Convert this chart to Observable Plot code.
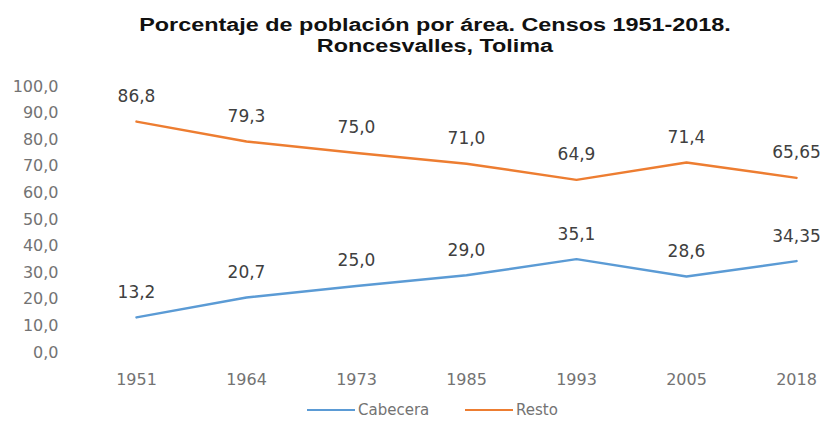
<!DOCTYPE html>
<html><head><meta charset="utf-8">
<script src="https://cdn.jsdelivr.net/npm/d3@7"></script>
<script src="https://cdn.jsdelivr.net/npm/@observablehq/plot@0.6"></script>
<style>
body{margin:0;background:#fff;width:820px;height:423px;overflow:hidden;font-family:"DejaVu Sans",sans-serif;}
#title{position:absolute;left:0;top:15px;width:820px;text-align:center;font-family:"Liberation Sans",Arial,sans-serif;font-weight:bold;font-size:18px;line-height:21px;color:#111;}
#title div{transform:scaleX(1.3);transform-origin:410px 0;margin-left:25px;margin-right:-25px;}
#chart{position:absolute;left:0;top:60px;}
#legend{position:absolute;left:0;top:400px;width:820px;height:20px;font-size:15px;color:#737373;}
.sw{position:absolute;top:9px;height:0;border-top:2.5px solid;width:48px;}
.lb{position:absolute;top:0;line-height:20px;}
</style></head>
<body>
<div id="title"><div>Porcentaje de población por área. Censos 1951-2018.</div><div>Roncesvalles, Tolima</div></div>
<div id="chart"></div>
<div id="legend"></div>
<script>
const years = ["1951","1964","1973","1985","1993","2005","2018"];
const cabecera = [13.2, 20.7, 25.0, 29.0, 35.1, 28.6, 34.35];
const resto = [86.8, 79.3, 75.0, 71.0, 64.9, 71.4, 65.65];
const cabeceraLabels = ["13,2","20,7","25,0","29,0","35,1","28,6","34,35"];
const restoLabels = ["86,8","79,3","75,0","71,0","64,9","71,4","65,65"];
const yTicks = [0,10,20,30,40,50,60,70,80,90,100];
const seriesNames = ["Cabecera","Resto"];
const seriesColors = ["#5B9BD5","#ED7D31"];

const data = [];
years.forEach((yr,i)=>{
  data.push({year:yr, value:cabecera[i], label:cabeceraLabels[i], series:"Cabecera"});
  data.push({year:yr, value:resto[i], label:restoLabels[i], series:"Resto"});
});

const fmt = d => d.toFixed(1).replace(".", ",");

const plot = Plot.plot({
  width: 820,
  height: 330,
  marginLeft: 135,
  marginRight: 23,
  marginTop: 26,
  marginBottom: 38,
  style: {fontFamily: '"DejaVu Sans", sans-serif', fontSize: "16px", background: "transparent"},
  x: {type: "point", domain: years, padding: 0},
  y: {domain: [0, 100]},
  color: {domain: seriesNames, range: seriesColors},
  marks: [
    Plot.axisY({ticks: yTicks, tickFormat: fmt, tickSize: 0, tickPadding: 77, fill: "#737373", fontSize: 16, label: null}),
    Plot.axisX({tickSize: 0, tickPadding: 21, fill: "#737373", fontSize: 16, label: null}),
    Plot.line(data, {x: "year", y: "value", z: "series", stroke: "series", strokeWidth: 2.5, curve: "linear"}),
    Plot.text(data, {x: "year", y: "value", text: "label", dy: -25, fill: "#404040", fontSize: 17})
  ]
});
document.getElementById("chart").appendChild(plot);

const legend = document.getElementById("legend");
const swX = [307, 465];
seriesNames.forEach((n,i)=>{
  const s = document.createElement("div");
  s.className = "sw"; s.style.left = swX[i] + "px"; s.style.borderColor = seriesColors[i];
  legend.appendChild(s);
  const l = document.createElement("div");
  l.className = "lb"; l.style.left = (swX[i] + 51) + "px"; l.textContent = n;
  legend.appendChild(l);
});
</script>
</body></html>
